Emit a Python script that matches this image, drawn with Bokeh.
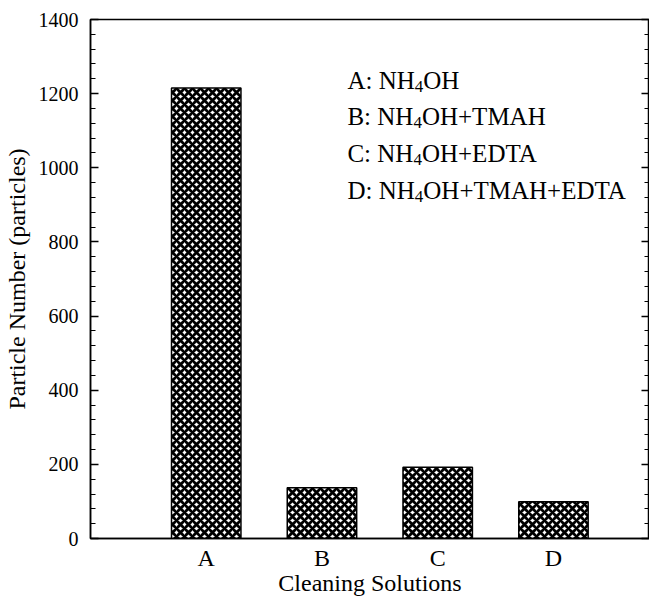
from bokeh.plotting import figure
from bokeh.models import (LinearAxis, FixedTicker, Range1d, ColumnDataSource,
                          CustomJSTickFormatter)
from bokeh.core.properties import value
from bokeh.embed import file_html
from bokeh.resources import INLINE

# ---- data ----
categories = ["A", "B", "C", "D"]
particles = [1215, 137, 192, 99]
legend_prefix = ["A: NH", "B: NH", "C: NH", "D: NH"]
legend_sub = ["4", "4", "4", "4"]
legend_suffix = ["OH", "OH+TMAH", "OH+EDTA", "OH+TMAH+EDTA"]
y_max = 1400
y_major_step = 200
y_minor_step = 40

FONT = "Liberation Serif"
ADV = {"A": .722, "B": .667, "C": .667, "D": .722, ":": .278, " ": .25,
       "N": .722, "H": .722, "4": .5}

def width(s, size):
    return sum(ADV.get(ch, .5) for ch in s) * size

positions = list(range(1, len(categories) + 1))
y_major = list(range(0, y_max + 1, y_major_step))
y_minor = list(range(0, y_max + 1, y_minor_step))

p = figure(width=649, height=598, output_backend="svg", toolbar_location=None,
           x_range=Range1d(0, 4.83), y_range=Range1d(0, y_max),
           min_border_left=83, min_border_top=19, min_border_bottom=50,
           min_border_right=0, x_axis_type=None, y_axis_type=None)
p.grid.visible = False
p.outline_line_color = "black"
p.outline_line_width = 1.5
p.background_fill_color = "white"
p.border_fill_color = "white"

src = ColumnDataSource(dict(x=positions, top=particles))
p.vbar(x="x", top="top", width=0.6, bottom=0, source=src,
       fill_color="white", line_color="black", line_width=1.5,
       hatch_pattern="diagonal_cross", hatch_color="black",
       hatch_scale=8, hatch_weight=2.8)

def style_y(ax):
    ax.axis_line_width = 1.5
    ax.axis_line_color = "black"
    ax.major_tick_line_color = "black"
    ax.major_tick_line_width = 1.5
    ax.minor_tick_line_width = 1.2
    ax.minor_tick_line_color = "black"
    ax.major_tick_in = 8
    ax.major_tick_out = 0
    ax.minor_tick_in = 5
    ax.minor_tick_out = 0

ya = LinearAxis(ticker=FixedTicker(ticks=y_major, minor_ticks=y_minor),
                axis_label="Particle Number (particles)")
style_y(ya)
ya.major_label_text_font = FONT
ya.major_label_text_font_size = "20px"
ya.major_label_text_color = "black"
ya.major_label_standoff = 12
ya.axis_label_text_font = FONT
ya.axis_label_text_font_size = "24px"
ya.axis_label_text_font_style = "normal"
ya.axis_label_text_color = "black"
ya.axis_label_standoff = 6
p.add_layout(ya, "left")

ra = LinearAxis(ticker=FixedTicker(ticks=y_major, minor_ticks=y_minor),
                formatter=CustomJSTickFormatter(code="return ''"))
style_y(ra)
ra.major_label_standoff = 0
p.add_layout(ra, "right")

xa = LinearAxis(ticker=FixedTicker(ticks=positions), axis_label="Cleaning Solutions")
xa.major_label_overrides = {pos: c for pos, c in zip(positions, categories)}
xa.axis_line_width = 1.5
xa.axis_line_color = "black"
xa.major_tick_in = 0
xa.major_tick_out = 0
xa.minor_tick_in = 0
xa.minor_tick_out = 0
xa.major_label_text_font = FONT
xa.major_label_text_font_size = "24px"
xa.major_label_text_color = "black"
xa.major_label_standoff = 6
xa.axis_label_text_font = FONT
xa.axis_label_text_font_size = "24px"
xa.axis_label_text_font_style = "normal"
xa.axis_label_text_color = "black"
xa.axis_label_standoff = -4
p.add_layout(xa, "below")

LF = 25
SF = 17
lx = [2.22] * 4
ly = [1236, 1137, 1039, 940]
w1 = [width(s, LF) for s in legend_prefix]
w2 = [w + width(s, SF) for w, s in zip(w1, legend_sub)]
p.text(x=lx, y=ly, text=legend_prefix, text_font=value(FONT),
       text_font_size=f"{LF}px", text_baseline="alphabetic", text_color="black")
p.text(x=lx, y=ly, text=legend_sub, x_offset=w1, y_offset=6, text_font=value(FONT),
       text_font_size=f"{SF}px", text_baseline="alphabetic", text_color="black")
p.text(x=lx, y=ly, text=legend_suffix, x_offset=w2, text_font=value(FONT),
       text_font_size=f"{LF}px", text_baseline="alphabetic", text_color="black")

open("out.html", "w").write(file_html(p, INLINE))
